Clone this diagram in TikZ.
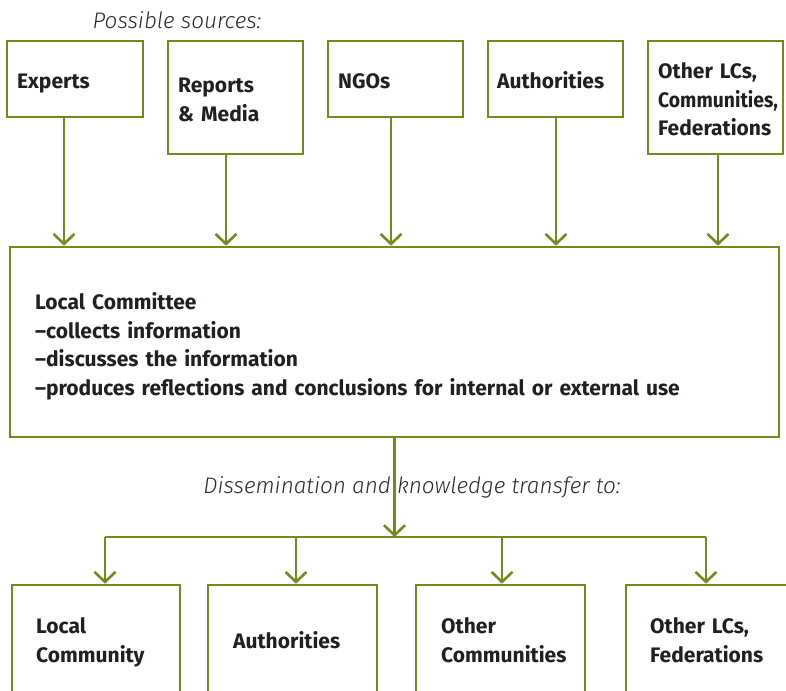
\documentclass[tikz,border=0pt]{standalone}
\usepackage{fontspec}
\setmainfont{Fira Sans}
\newfontfamily\lightit{Fira Sans Light}[ItalicFont={Fira Sans Light Italic}]
\usetikzlibrary{arrows.meta}
\definecolor{olive}{HTML}{748A1C}
\definecolor{ink}{HTML}{231F20}
\definecolor{itink}{HTML}{2B2B2B}
\tikzset{
  box/.style={draw=olive, line width=2.6pt, rectangle, inner sep=0pt},
  txt/.style={anchor=base west, inner sep=0pt, align=left, text=ink, text width=160pt,
    font=\fontsize{21}{28.5}\selectfont\bfseries},
  maintxt/.style={txt, text width=740pt, font=\fontsize{21}{28.7}\selectfont\bfseries},
  arr/.style={draw=olive, line width=2.6pt, -{Straight Barb[length=10pt,width=21pt,line width=2.6pt]}},
  conn/.style={draw=olive, line width=2.6pt},
  caption/.style={text=itink, font=\fontsize{22.5}{26}\selectfont\lightit\itshape, inner sep=0pt}
}
\begin{document}
\begin{tikzpicture}[x=1pt,y=-1pt]
\clip (0,0) rectangle (786,690);
\path[use as bounding box] (0,0) rectangle (786,690);
\fill[white] (0,0) rectangle (786,690);

\node[caption] (cap1) at (177,20) {Possible sources:};

% source boxes
\node[box, minimum width=136pt, minimum height=76pt] (experts) at (75,79) {};
\node[box, minimum width=135pt, minimum height=113pt] (reports) at (235.5,97.5) {};
\node[box, minimum width=135pt, minimum height=76pt] (ngos) at (395.5,79) {};
\node[box, minimum width=135pt, minimum height=76pt] (auth) at (555.5,79) {};
\node[box, minimum width=135pt, minimum height=113pt] (other) at (715.5,97.5) {};

\node[txt] (experts-t) at (17,89) {Experts};
\node[txt] (reports-t) at (178,93) {Reports\\\& Media};
\node[txt] (ngos-t) at (338,89) {NGOs};
\node[txt] (auth-t) at (497,89) {Authorities};
\node[txt] (other-t) at (658,78.5) {Other LCs,\\{\addfontfeature{FakeStretch=0.92}Communities,}\\Federations};

% local committee
\node[box, minimum width=769pt, minimum height=190pt] (main) at (394.5,342) {};
\node[maintxt] (main-t) at (35,309.5)
  {Local Committee\\--collects information\\--discusses the information\\--produces reflections and conclusions for internal or external use};

\draw[arr] (64,0 |- experts.south) -- (64,0 |- main.north);
\draw[arr] (226,0 |- reports.south) -- (226,0 |- main.north);
\draw[arr] (391,0 |- ngos.south) -- (391,0 |- main.north);
\draw[arr] (556,0 |- auth.south) -- (556,0 |- main.north);
\draw[arr] (718,0 |- other.south) -- (718,0 |- main.north);

\node[caption] (cap2) at (412,487) {Dissemination and knowledge transfer to:};

% destination boxes
\node[box, minimum width=168pt, minimum height=112pt] (lc) at (96,641) {};
\node[box, minimum width=169pt, minimum height=112pt] (au2) at (292.5,641) {};
\node[box, minimum width=169pt, minimum height=112pt] (oc) at (500.5,641) {};
\node[box, minimum width=169pt, minimum height=112pt] (ol) at (710.5,641) {};

\node[txt] (lc-t) at (36,633.5) {Local\\Community};
\node[txt] (au2-t) at (233,648) {Authorities};
\node[txt] (oc-t) at (441,633.5) {Other\\Communities};
\node[txt] (ol-t) at (650,633.5) {Other LCs,\\Federations};

\coordinate (hub) at (394.5,537);
\coordinate (b1) at (105,537);
\coordinate (b2) at (296,537);
\coordinate (b3) at (502,537);
\coordinate (b4) at (706,537);

\draw[arr] (main.south) -- (hub);
\draw[conn] (b1) -- (b4);
\draw[arr] (b1) -- (b1 |- lc.north);
\draw[arr] (b2) -- (b2 |- au2.north);
\draw[arr] (b3) -- (b3 |- oc.north);
\draw[arr] (b4) -- (b4 |- ol.north);
\end{tikzpicture}
\end{document}
